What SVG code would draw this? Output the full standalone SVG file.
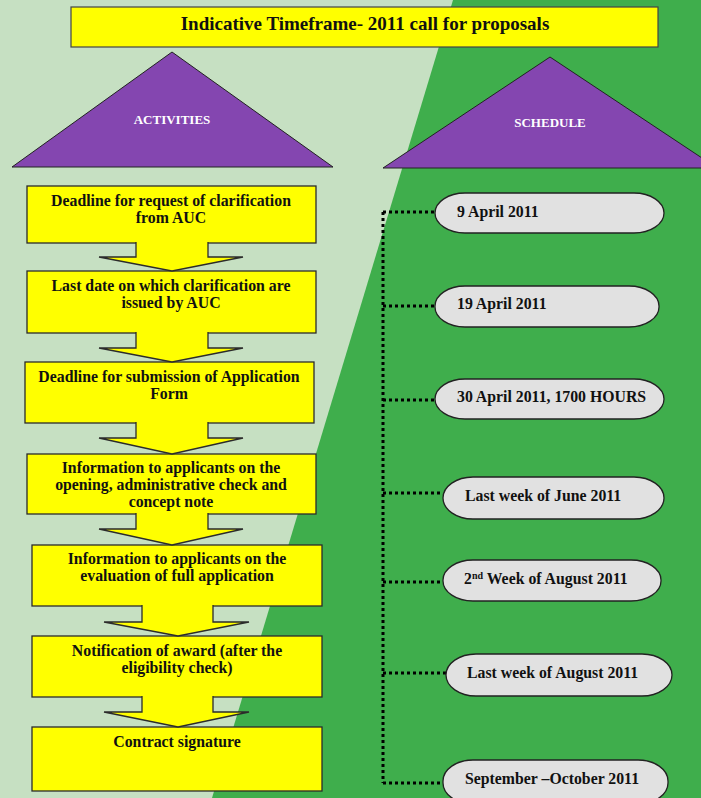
<svg xmlns="http://www.w3.org/2000/svg" width="701" height="798" viewBox="0 0 701 798">
<style>
.box{fill:#ffff00;stroke:#2b2b2b;stroke-width:1.3}
.arr{fill:#ffff00;stroke:#2b2b2b;stroke-width:1.3}
.tri{fill:#8446b0;stroke:#222;stroke-width:1}
.ov{fill:#e1e1e1;stroke:#222;stroke-width:1.3}
.t{font-family:"Liberation Serif",serif;font-weight:bold;font-size:15.8px;fill:#111}
.bt{text-anchor:middle}
.wt{font-family:"Liberation Serif",serif;font-weight:bold;font-size:13px;fill:#fff;text-anchor:middle}
.dot{stroke:#000;stroke-width:3;stroke-dasharray:3 3;fill:none}
</style>
<rect x="0" y="0" width="701" height="798" fill="#c6e0c2"/>
<polygon points="453,0 701,0 701,798 212,798" fill="#3fae4c"/>

<g id="title">
<rect x="71" y="7" width="587" height="40" fill="#ffff00" stroke="#444" stroke-width="1.2"/>
<text x="365" y="30" class="t bt" style="font-size:19px">Indicative Timeframe- 2011 call for proposals</text>
</g>

<g id="activities">
<polygon class="tri" points="172,52 333,167 12,167"/>
<text x="172" y="124" class="wt">ACTIVITIES</text>
</g>
<g id="schedule">
<polygon class="tri" points="550,57 717,168 383,168"/>
<text x="550" y="127" class="wt">SCHEDULE</text>
</g>

<g id="box1">
<rect class="box" x="27" y="186" width="289" height="57"/>
<text class="t bt" x="171" y="206">Deadline for request of clarification</text>
<text class="t bt" x="171" y="223">from AUC</text>
</g>
<g id="box2">
<rect class="box" x="27" y="271" width="289" height="62"/>
<text class="t bt" x="171" y="291">Last date on which clarification are</text>
<text class="t bt" x="171" y="308">issued by AUC</text>
</g>
<g id="box3">
<rect class="box" x="25" y="362" width="289" height="61"/>
<text class="t bt" x="169" y="382">Deadline for submission of Application</text>
<text class="t bt" x="169" y="399">Form</text>
</g>
<g id="box4">
<rect class="box" x="27" y="454" width="289" height="60"/>
<text class="t bt" x="171" y="473">Information to applicants on the</text>
<text class="t bt" x="171" y="490">opening, administrative check and</text>
<text class="t bt" x="171" y="507">concept note</text>
</g>
<g id="box5">
<rect class="box" x="32" y="545" width="290" height="61"/>
<text class="t bt" x="177" y="564">Information to applicants on the</text>
<text class="t bt" x="177" y="581">evaluation of full application</text>
</g>
<g id="box6">
<rect class="box" x="32" y="636" width="290" height="61"/>
<text class="t bt" x="177" y="656">Notification of award (after the</text>
<text class="t bt" x="177" y="673">eligibility check)</text>
</g>
<g id="box7">
<rect class="box" x="32" y="727" width="290" height="64"/>
<text class="t bt" x="177" y="747">Contract signature</text>
</g>

<g id="arrows">
<path class="arr" d="M136,242 V257 H99 L172,271 L243,257 H208 V242"/>
<path class="arr" d="M136,332 V348 H99 L172,362 L243,348 H208 V332"/>
<path class="arr" d="M136,422 V438 H99 L172,454 L243,438 H208 V422"/>
<path class="arr" d="M136,513 V529 H99 L172,545 L243,529 H208 V513"/>
<path class="arr" d="M142,605 V622 H104 L178,636 L249,622 H213 V605"/>
<path class="arr" d="M142,696 V712 H104 L178,727 L249,712 H213 V696"/>
</g>

<g id="connectors">
<path class="dot" d="M383,212 V783"/>
<path class="dot" d="M383,212 H435"/>
<path class="dot" d="M383,306 H435"/>
<path class="dot" d="M383,400 H435"/>
<path class="dot" d="M383,493 H443"/>
<path class="dot" d="M383,582 H443"/>
<path class="dot" d="M383,673 H446"/>
<path class="dot" d="M383,783 H443"/>
</g>

<g id="d1">
<rect class="ov" x="435" y="193" width="229" height="40" rx="30" ry="20"/>
<text class="t" x="457" y="217">9 April 2011</text>
</g>
<g id="d2">
<rect class="ov" x="435" y="286" width="224" height="41" rx="30" ry="20"/>
<text class="t" x="457" y="309">19 April 2011</text>
</g>
<g id="d3">
<rect class="ov" x="435" y="379" width="229" height="40" rx="30" ry="20"/>
<text class="t" x="457" y="402">30 April 2011, 1700 HOURS</text>
</g>
<g id="d4">
<rect class="ov" x="443" y="477" width="221" height="42" rx="30" ry="21"/>
<text class="t" x="465" y="501">Last week of June 2011</text>
</g>
<g id="d5">
<rect class="ov" x="443" y="560" width="218" height="41" rx="30" ry="20"/>
<text class="t" x="464" y="584">2<tspan font-size="10" dy="-5">nd</tspan><tspan dy="5"> Week of August 2011</tspan></text>
</g>
<g id="d6">
<rect class="ov" x="446" y="654" width="226" height="42" rx="30" ry="21"/>
<text class="t" x="467" y="678">Last week of August 2011</text>
</g>
<g id="d7">
<rect class="ov" x="443" y="760" width="225" height="44" rx="30" ry="21"/>
<text class="t" x="465" y="784">September –October 2011</text>
</g>
</svg>
